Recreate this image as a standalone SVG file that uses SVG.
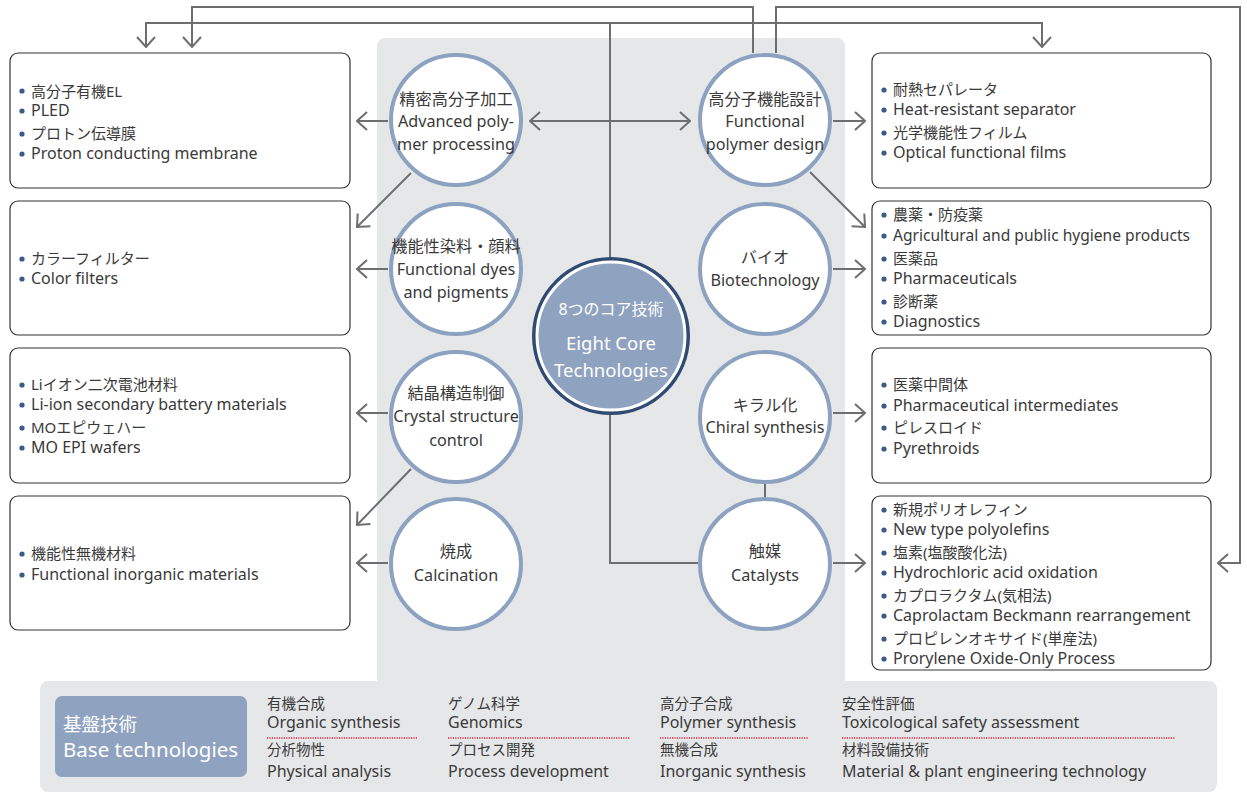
<svg xmlns="http://www.w3.org/2000/svg" width="1247" height="792" viewBox="0 0 1247 792">
<defs>
<marker id="chev" viewBox="0 0 12 20" refX="11" refY="10" markerWidth="12" markerHeight="20" markerUnits="userSpaceOnUse" orient="auto-start-reverse">
<path d="M1,1 L11,10 L1,19" fill="none" stroke="#6d6e70" stroke-width="2"/>
</marker>
</defs>
<style>
.t{font-family:"Noto Sans","Noto Sans CJK JP",sans-serif;fill:#3a3a3a}
.bx{font-size:16px}
.bj{font-size:15px}
.ci{font-size:16.2px;text-anchor:middle}
.box{fill:#fff;stroke:#333;stroke-width:1.2}
.node{fill:#fff;stroke:#8da2c0;stroke-width:4}
.ln{fill:none;stroke:#6d6e70;stroke-width:2}
.ar{fill:none;stroke:#6d6e70;stroke-width:2;marker-end:url(#chev)}
.dot{fill:#3b5a85}
.bt{font-family:"Noto Sans","Noto Sans CJK JP",sans-serif;fill:#3a3a3a}
.jp{font-size:14.5px}
.en{font-size:16px}
.dl{stroke:#d2213a;stroke-width:1.5;stroke-dasharray:1.2 1.2}
.wt{font-family:"Noto Sans","Noto Sans CJK JP",sans-serif;fill:#fff}
</style>
<rect width="1247" height="792" fill="#fff"/>
<rect x="377" y="38" width="468" height="660" rx="8" fill="#e6e7e9"/>
<rect x="40" y="681" width="1177" height="111" rx="8" fill="#e6e7e9"/>

<g id="connectors">
<path class="ar" d="M753,53 V7 H192 V47"/>
<path class="ar" d="M610,257 V23 H146 V47"/>
<path class="ar" d="M610,23 H1042 V47"/>
<path class="ar" d="M776,53 V7 H1240 V563 H1218"/>
<path class="ar" d="M388,121 H357"/>
<path class="ar" d="M530,121 H690" style="marker-start:url(#chev)"/>
<path class="ar" d="M833,121 H865"/>
<path class="ar" d="M411,173 L357,227"/>
<path class="ar" d="M810,172 L865,227"/>
<path class="ar" d="M388,269 H357"/>
<path class="ar" d="M833,269 H865"/>
<path class="ar" d="M388,413 H357"/>
<path class="ar" d="M833,413 H865"/>
<path class="ar" d="M411,469 L357,525"/>
<path class="ln" d="M765,484 V498"/>
<path class="ar" d="M388,563 H357"/>
<path class="ar" d="M833,563 H865"/>
<path class="ln" d="M610,415 V563 H700"/>
</g>

<g id="box-l1">
<rect class="box" x="10" y="53" width="340" height="135" rx="8"/>
<circle class="dot" cx="22" cy="91" r="2.6"/><circle class="dot" cx="22" cy="111" r="2.6"/><circle class="dot" cx="22" cy="134" r="2.6"/><circle class="dot" cx="22" cy="154" r="2.6"/>
<text class="t bj" x="31" y="97">高分子有機EL</text>
<text class="t bx" x="31" y="116">PLED</text>
<text class="t bj" x="31" y="139">プロトン伝導膜</text>
<text class="t bx" x="31" y="159">Proton conducting membrane</text>
</g>
<g id="box-l2">
<rect class="box" x="10" y="201" width="340" height="134" rx="8"/>
<circle class="dot" cx="22" cy="259" r="2.6"/><circle class="dot" cx="22" cy="279" r="2.6"/>
<text class="t bj" x="31" y="264">カラーフィルター</text>
<text class="t bx" x="31" y="284">Color filters</text>
</g>
<g id="box-l3">
<rect class="box" x="10" y="348" width="340" height="135" rx="8"/>
<circle class="dot" cx="22" cy="385" r="2.6"/><circle class="dot" cx="22" cy="405" r="2.6"/><circle class="dot" cx="22" cy="428" r="2.6"/><circle class="dot" cx="22" cy="448" r="2.6"/>
<text class="t bj" x="31" y="390">Liイオン二次電池材料</text>
<text class="t bx" x="31" y="410">Li-ion secondary battery materials</text>
<text class="t bj" x="31" y="433">MOエピウェハー</text>
<text class="t bx" x="31" y="453">MO EPI wafers</text>
</g>
<g id="box-l4">
<rect class="box" x="10" y="496" width="340" height="134" rx="8"/>
<circle class="dot" cx="22" cy="554" r="2.6"/><circle class="dot" cx="22" cy="575" r="2.6"/>
<text class="t bj" x="31" y="559">機能性無機材料</text>
<text class="t bx" x="31" y="580">Functional inorganic materials</text>
</g>

<g id="box-r1">
<rect class="box" x="872" y="53" width="339" height="135" rx="8"/>
<circle class="dot" cx="884" cy="90" r="2.6"/><circle class="dot" cx="884" cy="110" r="2.6"/><circle class="dot" cx="884" cy="133" r="2.6"/><circle class="dot" cx="884" cy="153" r="2.6"/>
<text class="t bj" x="893" y="95">耐熱セパレータ</text>
<text class="t bx" x="893" y="115">Heat-resistant separator</text>
<text class="t bj" x="893" y="138">光学機能性フィルム</text>
<text class="t bx" x="893" y="158">Optical functional films</text>
</g>
<g id="box-r2">
<rect class="box" x="872" y="201" width="339" height="134" rx="8"/>
<circle class="dot" cx="884" cy="215" r="2.6"/><circle class="dot" cx="884" cy="236" r="2.6"/><circle class="dot" cx="884" cy="259" r="2.6"/><circle class="dot" cx="884" cy="279" r="2.6"/><circle class="dot" cx="884" cy="302" r="2.6"/><circle class="dot" cx="884" cy="322" r="2.6"/>
<text class="t bj" x="893" y="220">農薬・防疫薬</text>
<text class="t bx" x="893" y="241" textLength="297" lengthAdjust="spacingAndGlyphs">Agricultural and public hygiene products</text>
<text class="t bj" x="893" y="264">医薬品</text>
<text class="t bx" x="893" y="284">Pharmaceuticals</text>
<text class="t bj" x="893" y="307">診断薬</text>
<text class="t bx" x="893" y="327">Diagnostics</text>
</g>
<g id="box-r3">
<rect class="box" x="872" y="348" width="339" height="135" rx="8"/>
<circle class="dot" cx="884" cy="385" r="2.6"/><circle class="dot" cx="884" cy="406" r="2.6"/><circle class="dot" cx="884" cy="428" r="2.6"/><circle class="dot" cx="884" cy="449" r="2.6"/>
<text class="t bj" x="893" y="390">医薬中間体</text>
<text class="t bx" x="893" y="411">Pharmaceutical intermediates</text>
<text class="t bj" x="893" y="433">ピレスロイド</text>
<text class="t bx" x="893" y="454">Pyrethroids</text>
</g>
<g id="box-r4">
<rect class="box" x="872" y="496" width="339" height="174" rx="8"/>
<circle class="dot" cx="884" cy="510" r="2.6"/><circle class="dot" cx="884" cy="530" r="2.6"/><circle class="dot" cx="884" cy="553" r="2.6"/><circle class="dot" cx="884" cy="573" r="2.6"/><circle class="dot" cx="884" cy="596" r="2.6"/><circle class="dot" cx="884" cy="616" r="2.6"/><circle class="dot" cx="884" cy="639" r="2.6"/><circle class="dot" cx="884" cy="659" r="2.6"/>
<text class="t bj" x="893" y="515">新規ポリオレフィン</text>
<text class="t bx" x="893" y="535">New type polyolefins</text>
<text class="t bj" x="893" y="558">塩素(塩酸酸化法)</text>
<text class="t bx" x="893" y="578">Hydrochloric acid oxidation</text>
<text class="t bj" x="893" y="601">カプロラクタム(気相法)</text>
<text class="t bx" x="893" y="621">Caprolactam Beckmann rearrangement</text>
<text class="t bj" x="893" y="644">プロピレンオキサイド(単産法)</text>
<text class="t bx" x="893" y="664">Prorylene Oxide-Only Process</text>
</g>

<g id="n-advanced">
<circle class="node" cx="456" cy="120" r="65"/>
<text class="t ci" x="456" y="105">精密高分子加工</text>
<text class="t ci" x="456" y="127">Advanced poly-</text>
<text class="t ci" x="456" y="150">mer processing</text>
</g>
<g id="n-dyes">
<circle class="node" cx="456" cy="269" r="65"/>
<text class="t ci" x="456" y="252">機能性染料・顔料</text>
<text class="t ci" x="456" y="275">Functional dyes</text>
<text class="t ci" x="456" y="298">and pigments</text>
</g>
<g id="n-crystal">
<circle class="node" cx="456" cy="417" r="65"/>
<text class="t ci" x="456" y="399">結晶構造制御</text>
<text class="t ci" x="456" y="422">Crystal structure</text>
<text class="t ci" x="456" y="446">control</text>
</g>
<g id="n-calcination">
<circle class="node" cx="456" cy="564" r="65"/>
<text class="t ci" x="456" y="557">焼成</text>
<text class="t ci" x="456" y="581">Calcination</text>
</g>
<g id="n-functional">
<circle class="node" cx="765" cy="120" r="65"/>
<text class="t ci" x="765" y="105">高分子機能設計</text>
<text class="t ci" x="765" y="127">Functional</text>
<text class="t ci" x="765" y="150">polymer design</text>
</g>
<g id="n-bio">
<circle class="node" cx="765" cy="269" r="65"/>
<text class="t ci" x="765" y="263">バイオ</text>
<text class="t ci" x="765" y="286">Biotechnology</text>
</g>
<g id="n-chiral">
<circle class="node" cx="765" cy="417" r="65"/>
<text class="t ci" x="765" y="411">キラル化</text>
<text class="t ci" x="765" y="433">Chiral synthesis</text>
</g>
<g id="n-catalysts">
<circle class="node" cx="765" cy="564" r="65"/>
<text class="t ci" x="765" y="557">触媒</text>
<text class="t ci" x="765" y="581">Catalysts</text>
</g>
<g id="n-core">
<circle cx="611" cy="336" r="79" fill="#2f4b73"/>
<circle cx="611" cy="336" r="74" fill="#8fa3c0" stroke="#fff" stroke-width="3"/>
<text class="wt" x="611" y="315" text-anchor="middle" font-size="16">8つのコア技術</text>
<text class="wt" x="611" y="350" text-anchor="middle" font-size="18.5">Eight Core</text>
<text class="wt" x="611" y="377" text-anchor="middle" font-size="18.5">Technologies</text>
</g>

<g id="base">
<rect x="55" y="696" width="192" height="81" rx="7" fill="#8fa3c0"/>
<text class="wt" x="63" y="731" font-size="18.5">基盤技術</text>
<text class="wt" x="63" y="757" font-size="20.5">Base technologies</text>
</g>
<g id="base-organic"><text class="bt jp" x="267" y="709">有機合成</text><text class="bt en" x="267" y="728">Organic synthesis</text></g>
<g id="base-physical"><text class="bt jp" x="267" y="755">分析物性</text><text class="bt en" x="267" y="777">Physical analysis</text></g>
<g id="base-genomics"><text class="bt jp" x="448" y="709">ゲノム科学</text><text class="bt en" x="448" y="728">Genomics</text></g>
<g id="base-process"><text class="bt jp" x="448" y="755">プロセス開発</text><text class="bt en" x="448" y="777">Process development</text></g>
<g id="base-polymer"><text class="bt jp" x="660" y="709">高分子合成</text><text class="bt en" x="660" y="728">Polymer synthesis</text></g>
<g id="base-inorganic"><text class="bt jp" x="660" y="755">無機合成</text><text class="bt en" x="660" y="777">Inorganic synthesis</text></g>
<g id="base-tox"><text class="bt jp" x="842" y="709">安全性評価</text><text class="bt en" x="842" y="728">Toxicological safety assessment</text></g>
<g id="base-material"><text class="bt jp" x="842" y="755">材料設備技術</text><text class="bt en" x="842" y="777">Material &amp; plant engineering technology</text></g>
<g id="base-dividers">
<line class="dl" x1="267" y1="738" x2="417" y2="738"/>
<line class="dl" x1="448" y1="738" x2="630" y2="738"/>
<line class="dl" x1="660" y1="738" x2="808" y2="738"/>
<line class="dl" x1="842" y1="738" x2="1175" y2="738"/>
</g>
</svg>
